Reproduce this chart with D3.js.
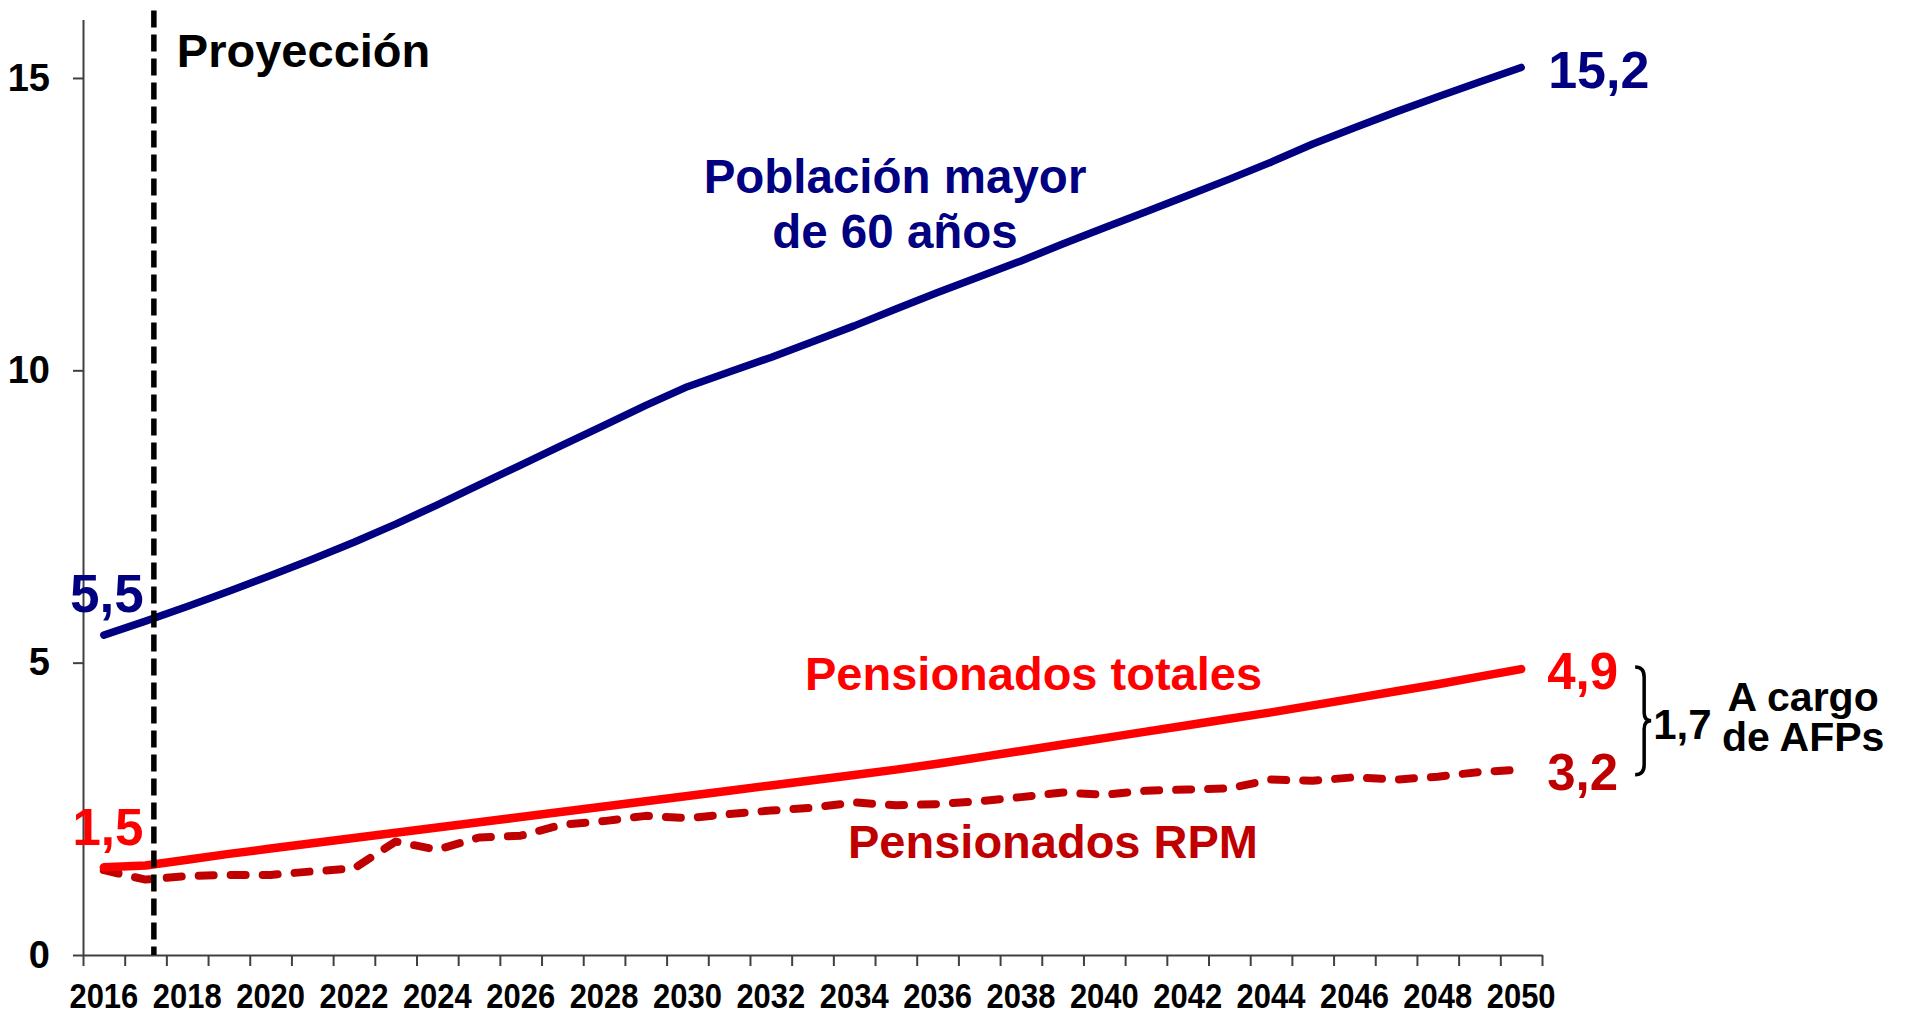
<!DOCTYPE html>
<html>
<head>
<meta charset="utf-8">
<script src="https://cdn.jsdelivr.net/npm/d3@7"></script>
<style>
  body { margin: 0; background: #fff; }
  svg text { font-family: "Liberation Sans", Arial, sans-serif; font-weight: bold; }
</style>
</head>
<body>
<svg></svg>
<script>
// data (millones de personas)
var years = d3.range(2016, 2051);
var poblacion60 = [5.47, 5.71, 5.96, 6.22, 6.49, 6.77, 7.06, 7.37, 7.70, 8.04, 8.38, 8.72, 9.06, 9.40, 9.72,
  9.97, 10.22, 10.49, 10.76, 11.05, 11.33, 11.60, 11.87, 12.16, 12.44, 12.71, 12.99, 13.27, 13.56, 13.87,
  14.15, 14.42, 14.68, 14.93, 15.18];
var pensionadosTotales = [1.50, 1.53, 1.63, 1.73, 1.82, 1.91, 2.00, 2.09, 2.18, 2.27, 2.36, 2.45, 2.54, 2.63, 2.72,
  2.81, 2.90, 2.99, 3.08, 3.17, 3.27, 3.38, 3.49, 3.60, 3.71, 3.82, 3.93, 4.04, 4.15, 4.27,
  4.39, 4.51, 4.63, 4.76, 4.89];
var pensionadosRPM = [1.45, 1.29, 1.35, 1.37, 1.37, 1.43, 1.48, 1.94, 1.80, 2.01, 2.04, 2.23, 2.29, 2.38, 2.34,
  2.41, 2.47, 2.52, 2.61, 2.56, 2.58, 2.63, 2.70, 2.78, 2.74, 2.81, 2.83, 2.85, 3.00, 2.98,
  3.04, 3.00, 3.05, 3.13, 3.17];
var yTicks = [0, 5, 10, 15];
var projectionYear = 2017;

// set the dimensions and margins of the graph
var margin = {top: 19.5, right: 370, bottom: 61, left: 83},
    width = 1912 - margin.left - margin.right,
    height = 1016 - margin.top - margin.bottom;

var svg = d3.select("svg")
    .attr("width", 1912)
    .attr("height", 1016)
  .append("g")
    .attr("transform", "translate(" + margin.left + "," + margin.top + ")");

var x = d3.scaleBand().domain(years).range([0, width]).padding(0);
var xb = d3.scaleLinear().domain([2016, 2051]).range([0, width]); // category boundaries
var y = d3.scaleLinear().domain([0, 16]).range([height, 0]);

var es = d3.formatLocale({decimal: ",", thousands: ".", grouping: [3], currency: ["", ""]});
var fmt = es.format(".1f");

// axes
var yAxis = svg.append("g")
    .call(d3.axisLeft(y).tickValues(yTicks).tickSize(10).tickSizeOuter(0).tickPadding(23).tickFormat(d3.format("d")));

var xTicks = svg.append("g")
    .attr("transform", "translate(0," + height + ")")
    .call(d3.axisBottom(xb).tickValues(d3.range(2016, 2052)).tickSize(11).tickSizeOuter(0).tickFormat(""));

var xLabels = svg.append("g")
    .attr("transform", "translate(0," + height + ")")
    .call(d3.axisBottom(x).tickValues(years.filter(function(d) { return d % 2 === 0; })).tickSize(0).tickPadding(27));
xLabels.select(".domain").remove();
xLabels.selectAll(".tick text").attr("transform", "scale(0.86,1)");

svg.selectAll(".domain, .tick line").attr("stroke", "#404040").attr("stroke-width", 2);
svg.selectAll(".tick text").attr("fill", "#000").style("font-size", "36px");
yAxis.selectAll(".tick text").style("font-size", "38px");

// lines
var line = d3.line()
    .x(function(d, i) { return x(years[i]) + x.bandwidth() / 2; })
    .y(function(d) { return y(d); });

svg.append("path")
    .datum(pensionadosRPM)
    .attr("fill", "none")
    .attr("stroke", "#C00000")
    .attr("stroke-width", 8)
    .attr("stroke-dasharray", "15,17")
    .attr("stroke-linecap", "round")
    .attr("stroke-linejoin", "round")
    .attr("d", line);

svg.append("path")
    .datum(pensionadosTotales)
    .attr("fill", "none")
    .attr("stroke", "#FF0000")
    .attr("stroke-width", 8.5)
    .attr("stroke-linecap", "round")
    .attr("stroke-linejoin", "round")
    .attr("d", line);

svg.append("path")
    .datum(poblacion60)
    .attr("fill", "none")
    .attr("stroke", "#000080")
    .attr("stroke-width", 7.5)
    .attr("stroke-linecap", "round")
    .attr("stroke-linejoin", "round")
    .attr("d", line);

// projection marker
var px = x(projectionYear) + x.bandwidth() * 0.7;
svg.append("line")
    .attr("x1", px).attr("x2", px)
    .attr("y1", -9).attr("y2", height)
    .attr("stroke", "#000")
    .attr("stroke-width", 5.5)
    .attr("stroke-dasharray", "17,7");

svg.append("text")
    .attr("x", px + 23).attr("y", 47)
    .style("font-size", "47px")
    .attr("fill", "#000")
    .text("Proyección");

// end-point labels
var n = years.length - 1;
var cx0 = x(years[0]) + x.bandwidth() / 2,
    cxN = x(years[n]) + x.bandwidth() / 2;

function label(txt, xx, yy, size, color, anchor) {
  return svg.append("text")
      .attr("x", xx).attr("y", yy)
      .attr("text-anchor", anchor || "start")
      .style("font-size", size + "px")
      .attr("fill", color)
      .text(txt);
}

// two-line label in a single text element
function label2(lines, xx, yy, lh, size, color) {
  var t = svg.append("text")
      .attr("text-anchor", "middle")
      .style("font-size", size + "px")
      .attr("fill", color);
  lines.forEach(function(s, i) {
    t.append("tspan").attr("x", xx).attr("y", yy + i * lh).text(s);
  });
}

label(fmt(poblacion60[0]), cx0 + 3, y(poblacion60[0]) - 23, 53, "#000080", "middle");
label(fmt(poblacion60[n]), cxN + 27, y(poblacion60[n]) + 21, 52, "#000080");
label(fmt(pensionadosTotales[0]), cx0 + 4, y(pensionadosTotales[0]) - 22, 51, "#FF0000", "middle");
label(fmt(pensionadosTotales[n]), cxN + 26, y(pensionadosTotales[n]) + 20, 51, "#FF0000");
label(fmt(pensionadosRPM[n]), cxN + 26, y(pensionadosRPM[n]) + 20, 51, "#C00000");

// series names
label2(["Población mayor", "de 60 años"], 812, 173, 55, 47.5, "#000080");
label("Pensionados totales", 722, 670, 47, "#FF0000");
label("Pensionados RPM", 765, 838, 47, "#C00000");

// brace for the AFP difference
var yTop = y(pensionadosTotales[n]) - 2,
    yBot = y(pensionadosRPM[n]) + 5,
    yMid = (yTop + yBot) / 2,
    bx = cxN + 114;
svg.append("path")
    .attr("fill", "none")
    .attr("stroke", "#000")
    .attr("stroke-width", 3.5)
    .attr("d", "M" + bx + "," + yTop +
      "Q" + (bx + 9) + "," + yTop + " " + (bx + 9) + "," + (yTop + 10) +
      "L" + (bx + 9) + "," + (yMid - 8) +
      "Q" + (bx + 9) + "," + yMid + " " + (bx + 16) + "," + yMid +
      "Q" + (bx + 9) + "," + yMid + " " + (bx + 9) + "," + (yMid + 8) +
      "L" + (bx + 9) + "," + (yBot - 10) +
      "Q" + (bx + 9) + "," + yBot + " " + bx + "," + yBot);

label(fmt(pensionadosTotales[n] - pensionadosRPM[n]), bx + 18, yMid + 18, 42, "#000");
label2(["A cargo", "de AFPs"], bx + 168, yMid - 10, 40, 41, "#000");
</script>
</body>
</html>
